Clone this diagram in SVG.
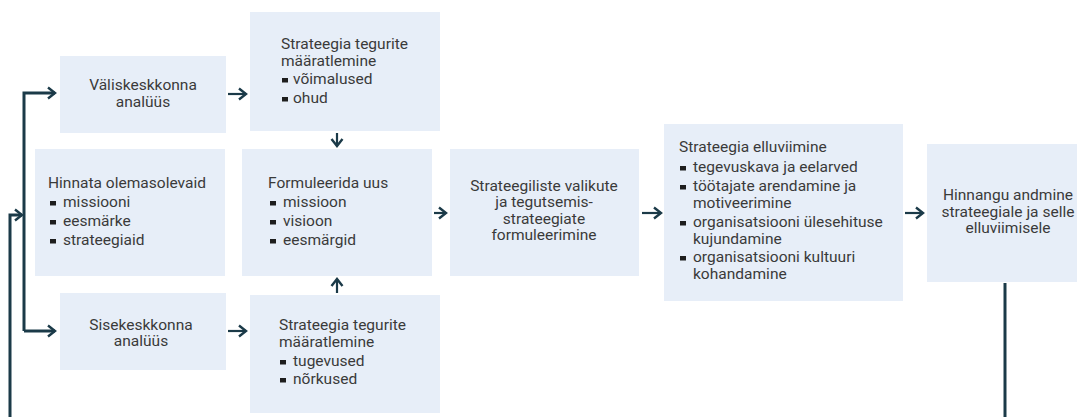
<svg xmlns="http://www.w3.org/2000/svg" xmlns:xlink="http://www.w3.org/1999/xlink" width="1077" height="417" viewBox="0 0 1077 417">
  <style>
    .box { fill: #e7eef8; }
    .t { font-family: Roboto, "Liberation Sans", sans-serif; font-size: 14px; fill: #3a3a3a;
         transform-box: fill-box; transform-origin: 0 0; transform: scaleX(1.11); }
    .c { text-anchor: middle; transform-origin: 50% 0; }
    .wire { fill: none; stroke: #1b3a48; stroke-width: 3; }
    .arr { fill: none; stroke: #1b3a48; stroke-width: 2.2; }
    .bul { fill: #1e1e1e; }
  </style>
  <defs>
    <marker id="head" markerUnits="userSpaceOnUse" viewBox="-9 -7 11 14" markerWidth="11" markerHeight="14" refX="0" refY="0" orient="auto">
      <path d="M-7,-5.5 L0,0 L-7,5.5" fill="none" stroke="#1b3a48" stroke-width="2.4"/>
    </marker>
    <rect id="b" class="bul" x="0" y="-6" width="6" height="4.5"/>
  </defs>

  <!-- connectors -->
  <g id="connectors">
    <!-- outer feedback return -->
    <path class="wire" d="M1005,283 V417"/>
    <path class="wire" d="M10,417 V215 H22" marker-end="url(#head)"/>
    <!-- split to external and internal analysis -->
    <path class="wire" d="M24,331 V93 H55" marker-end="url(#head)"/>
    <path class="wire" d="M24,331 H55" marker-end="url(#head)"/>
    <!-- short arrows between boxes -->
    <path class="arr" d="M228,94 H246" marker-end="url(#head)"/>
    <path class="arr" d="M228,331 H246" marker-end="url(#head)"/>
    <path class="arr" d="M337,133 V146" marker-end="url(#head)"/>
    <path class="arr" d="M337,293 V279" marker-end="url(#head)"/>
    <path class="arr" d="M434,213 H446" marker-end="url(#head)"/>
    <path class="arr" d="M642,213 H661" marker-end="url(#head)"/>
    <path class="arr" d="M905,213 H923" marker-end="url(#head)"/>
  </g>

  <g id="valiskeskkond">
    <rect class="box" x="60" y="56" width="166" height="77"/>
    <text class="t c" x="143" y="90">Väliskeskkonna</text>
    <text class="t c" x="143" y="107">analüüs</text>
  </g>

  <g id="tegurid-valine">
    <rect class="box" x="250" y="12" width="190" height="119"/>
    <text class="t" x="281" y="49">Strateegia tegurite</text>
    <text class="t" x="281" y="66">määratlemine</text>
    <use xlink:href="#b" x="282" y="84"/>
    <text class="t" x="293" y="84">võimalused</text>
    <use xlink:href="#b" x="282" y="103"/>
    <text class="t" x="293" y="103">ohud</text>
  </g>

  <g id="hinnata">
    <rect class="box" x="35" y="149" width="190" height="127"/>
    <text class="t" x="48" y="188">Hinnata olemasolevaid</text>
    <use xlink:href="#b" x="50" y="207"/>
    <text class="t" x="63" y="207">missiooni</text>
    <use xlink:href="#b" x="50" y="226"/>
    <text class="t" x="63" y="226">eesmärke</text>
    <use xlink:href="#b" x="50" y="245"/>
    <text class="t" x="63" y="245">strateegiaid</text>
  </g>

  <g id="formuleerida">
    <rect class="box" x="242" y="149" width="190" height="127"/>
    <text class="t" x="268" y="188">Formuleerida uus</text>
    <use xlink:href="#b" x="270" y="207"/>
    <text class="t" x="283" y="207">missioon</text>
    <use xlink:href="#b" x="270" y="226"/>
    <text class="t" x="283" y="226">visioon</text>
    <use xlink:href="#b" x="270" y="245"/>
    <text class="t" x="283" y="245">eesmärgid</text>
  </g>

  <g id="sisekeskkond">
    <rect class="box" x="60" y="293" width="166" height="77"/>
    <text class="t c" x="141" y="330">Sisekeskkonna</text>
    <text class="t c" x="141" y="346">analüüs</text>
  </g>

  <g id="tegurid-sisemine">
    <rect class="box" x="250" y="295" width="190" height="118"/>
    <text class="t" x="279" y="330">Strateegia tegurite</text>
    <text class="t" x="279" y="347">määratlemine</text>
    <use xlink:href="#b" x="280" y="366"/>
    <text class="t" x="293" y="366">tugevused</text>
    <use xlink:href="#b" x="280" y="384"/>
    <text class="t" x="293" y="384">nõrkused</text>
  </g>

  <g id="valikud">
    <rect class="box" x="450" y="149" width="189" height="127"/>
    <text class="t c" x="544" y="191">Strateegiliste valikute</text>
    <text class="t c" x="544" y="207">ja tegutsemis-</text>
    <text class="t c" x="544" y="224">strateegiate</text>
    <text class="t c" x="544" y="240">formuleerimine</text>
  </g>

  <g id="elluviimine">
    <rect class="box" x="664" y="124" width="239" height="177"/>
    <text class="t" x="679" y="152">Strateegia elluviimine</text>
    <use xlink:href="#b" x="680" y="172"/>
    <text class="t" x="693" y="172">tegevuskava ja eelarved</text>
    <use xlink:href="#b" x="680" y="191"/>
    <text class="t" x="693" y="191">töötajate arendamine ja</text>
    <text class="t" x="693" y="208">motiveerimine</text>
    <use xlink:href="#b" x="680" y="227"/>
    <text class="t" x="693" y="227">organisatsiooni ülesehituse</text>
    <text class="t" x="693" y="244">kujundamine</text>
    <use xlink:href="#b" x="680" y="262"/>
    <text class="t" x="693" y="262">organisatsiooni kultuuri</text>
    <text class="t" x="693" y="279">kohandamine</text>
  </g>

  <g id="hinnang">
    <rect class="box" x="927" y="144" width="150" height="138"/>
    <text class="t c" x="1008" y="200">Hinnangu andmine</text>
    <text class="t c" x="1008" y="217">strateegiale ja selle</text>
    <text class="t c" x="1008" y="233">elluviimisele</text>
  </g>
</svg>
